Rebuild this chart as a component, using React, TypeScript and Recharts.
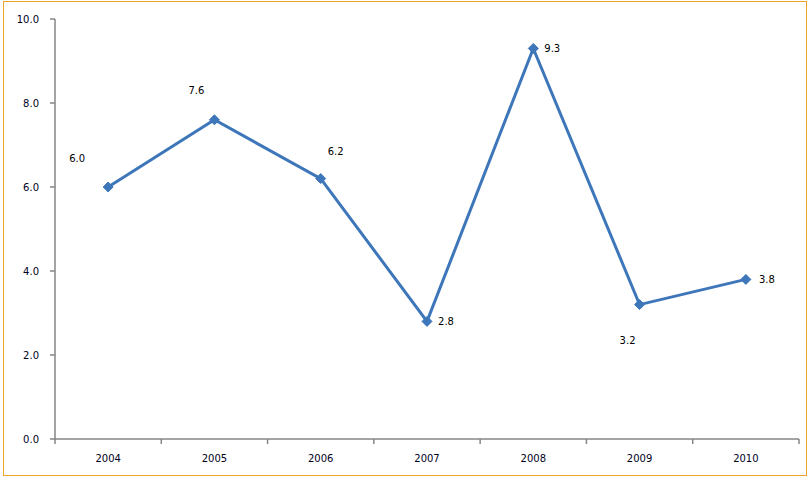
import { LineChart, Line, XAxis, YAxis, LabelList } from "recharts";

const YEARS = ["2004", "2005", "2006", "2007", "2008", "2009", "2010"];
const VALUES = [6.0, 7.6, 6.2, 2.8, 9.3, 3.2, 3.8];
const Y_TICKS = [0, 2, 4, 6, 8, 10];
// label offsets (dx, dy) from each point, as placed in the original
const LABEL_DX = [-31, -18, 15, 19, 19, -12, 21];
const LABEL_DY = [-29, -29, -27, 0, 0, 36, 0];

const BLUE = "#3E76BA";
const AXIS = "#868686";
const TICK_TEXT = "#00001C";
const FONT = "'DejaVu Sans', Verdana, sans-serif";

const data = YEARS.map((y, i) => ({ idx: i, year: y, value: VALUES[i] }));
const boundaryTicks = YEARS.map((_, i) => i - 0.5).concat([YEARS.length - 0.5]);
const centerTicks = YEARS.map((_, i) => i);

function Diamond({ cx, cy }: any) {
  if (cx == null || cy == null) return null;
  const r = 5;
  return <path d={`M${cx},${cy - r}L${cx + r},${cy}L${cx},${cy + r}L${cx - r},${cy}Z`} fill={BLUE} stroke={BLUE} strokeWidth={1} />;
}

function PointLabel({ x, y, value, index }: any) {
  return (
    <text x={x + LABEL_DX[index]} y={y + LABEL_DY[index]} dy="0.35em" textAnchor="middle"
      fontSize={10} fontFamily={FONT} fill="#000">
      {Number(value).toFixed(1)}
    </text>
  );
}

function BlankTick() {
  return <g />;
}

export default function App() {
  return (
    <div style={{ position: "absolute", left: 0, top: 0, width: 809, height: 480, background: "#fff" }}>
      <div style={{ position: "absolute", left: 3, top: 1, width: 802, height: 473, border: "1px solid #EEA32A" }} />
      <div style={{ position: "absolute", left: 0, top: 0 }}>
        <LineChart width={809} height={480} data={data} margin={{ top: 19, right: 10, bottom: 11, left: 0 }}>
          {/* axis ids sort alphabetically: "a" sits on the plot edge, "b" below it */}
          <XAxis xAxisId="a" dataKey="idx" type="number" domain={[-0.5, YEARS.length - 0.5]}
            ticks={boundaryTicks} tick={<BlankTick />} height={1} tickSize={5} interval={0}
            axisLine={{ stroke: AXIS, strokeWidth: 1.5 }} tickLine={{ stroke: AXIS, strokeWidth: 1.5 }} />
          <XAxis xAxisId="b" dataKey="idx" type="number" domain={[-0.5, YEARS.length - 0.5]}
            ticks={centerTicks} tickFormatter={(v: number) => YEARS[v]} height={29}
            axisLine={false} tickLine={false} tickSize={0} tickMargin={15} interval={0}
            tick={{ fontSize: 10, fontFamily: FONT, fill: TICK_TEXT }} />
          <YAxis domain={[0, 10]} ticks={Y_TICKS} width={55} tickSize={5} tickMargin={11}
            tickFormatter={(v: number) => v.toFixed(1)} interval={0}
            axisLine={{ stroke: AXIS, strokeWidth: 1.5 }} tickLine={{ stroke: AXIS, strokeWidth: 1.5 }}
            tick={{ fontSize: 10, fontFamily: FONT, fill: TICK_TEXT }} />
          <Line xAxisId="a" dataKey="value" stroke={BLUE} strokeWidth={3} dot={<Diamond />}
            activeDot={false} isAnimationActive={false}>
            <LabelList dataKey="value" content={<PointLabel />} />
          </Line>
        </LineChart>
      </div>
    </div>
  );
}
